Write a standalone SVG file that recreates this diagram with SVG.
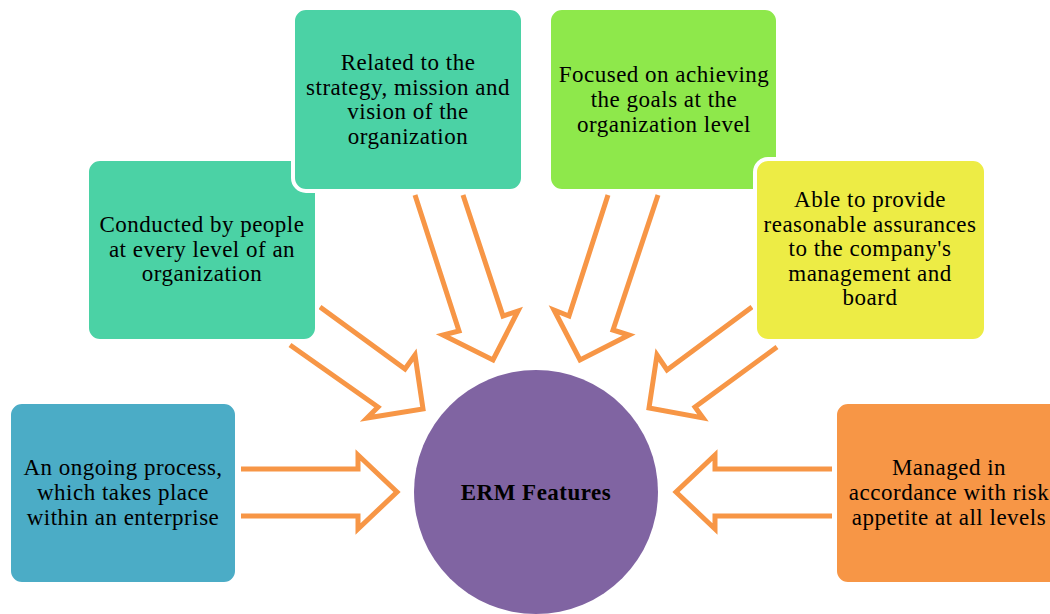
<svg xmlns="http://www.w3.org/2000/svg" width="1050" height="614" viewBox="0 0 1050 614">
  <style>
    .box { stroke: #ffffff; stroke-width: 4; }
    .lbl { font-family: "Liberation Serif", "Times New Roman", serif; font-size: 23px; letter-spacing: 0.5px; fill: #000000; text-anchor: middle; }
    .arrow { fill: none; stroke: #F79646; stroke-width: 5; stroke-linejoin: miter; stroke-linecap: butt; }
  </style>
  <rect width="1050" height="614" fill="#ffffff"/>

  <!-- hollow block arrows pointing at the hub -->
  <g id="connectors">
    <path class="arrow" d="M241,469 H358 V455 L397,492 L358,529 V516 H241"/>
    <path class="arrow" d="M832,469 H715 V455 L676,492 L715,529 V516 H832"/>
    <path class="arrow" d="M320,307 L405,369 L415,355 L423,409 L367,418 L378,407 L290,345"/>
    <path class="arrow" d="M415,195 L459,331 L443,335 L493,360 L518,311 L503,316 L463,195"/>
    <path class="arrow" d="M608,195 L569,316 L554,310 L580,360 L629,335 L613,330 L658,195"/>
    <path class="arrow" d="M752,307 L667,370 L657,355 L649,408 L703,418 L695,407 L777,347"/>
  </g>

  <g id="hub">
    <circle cx="536" cy="492" r="122" fill="#8064A2"/>
    <text class="lbl" x="536" y="500" font-weight="bold" font-size="23.5" letter-spacing="0.6">ERM Features</text>
  </g>

  <g id="node-ongoing">
    <rect class="box" x="9" y="402" width="228" height="182" rx="13" fill="#4BACC6"/>
    <text class="lbl" x="123" y="475">An ongoing process,</text>
    <text class="lbl" x="123" y="500">which takes place</text>
    <text class="lbl" x="123" y="525">within an enterprise</text>
  </g>

  <g id="node-conducted">
    <rect class="box" x="87" y="159" width="230" height="182" rx="13" fill="#4BD2A5"/>
    <text class="lbl" x="202" y="232">Conducted by people</text>
    <text class="lbl" x="202" y="257">at every level of an</text>
    <text class="lbl" x="202" y="281">organization</text>
  </g>

  <g id="node-related">
    <rect class="box" x="293" y="8" width="230" height="183" rx="13" fill="#4BD2A5"/>
    <text class="lbl" x="408" y="70">Related to the</text>
    <text class="lbl" x="408" y="95">strategy, mission and</text>
    <text class="lbl" x="408" y="119">vision of the</text>
    <text class="lbl" x="408" y="144">organization</text>
  </g>

  <g id="node-focused">
    <rect class="box" x="549" y="8" width="229" height="183" rx="13" fill="#8EE84B"/>
    <text class="lbl" x="664" y="82">Focused on achieving</text>
    <text class="lbl" x="664" y="107">the goals at the</text>
    <text class="lbl" x="664" y="132">organization level</text>
  </g>

  <g id="node-assurance">
    <rect class="box" x="755" y="159" width="231" height="182" rx="13" fill="#EDEC45"/>
    <text class="lbl" x="870" y="207">Able to provide</text>
    <text class="lbl" x="870" y="232">reasonable assurances</text>
    <text class="lbl" x="870" y="256">to the company's</text>
    <text class="lbl" x="870" y="281">management and</text>
    <text class="lbl" x="870" y="305">board</text>
  </g>

  <g id="node-appetite">
    <rect class="box" x="835" y="402" width="228" height="182" rx="13" fill="#F79646"/>
    <text class="lbl" x="949" y="475">Managed in</text>
    <text class="lbl" x="949" y="500">accordance with risk</text>
    <text class="lbl" x="949" y="525">appetite at all levels</text>
  </g>
</svg>
